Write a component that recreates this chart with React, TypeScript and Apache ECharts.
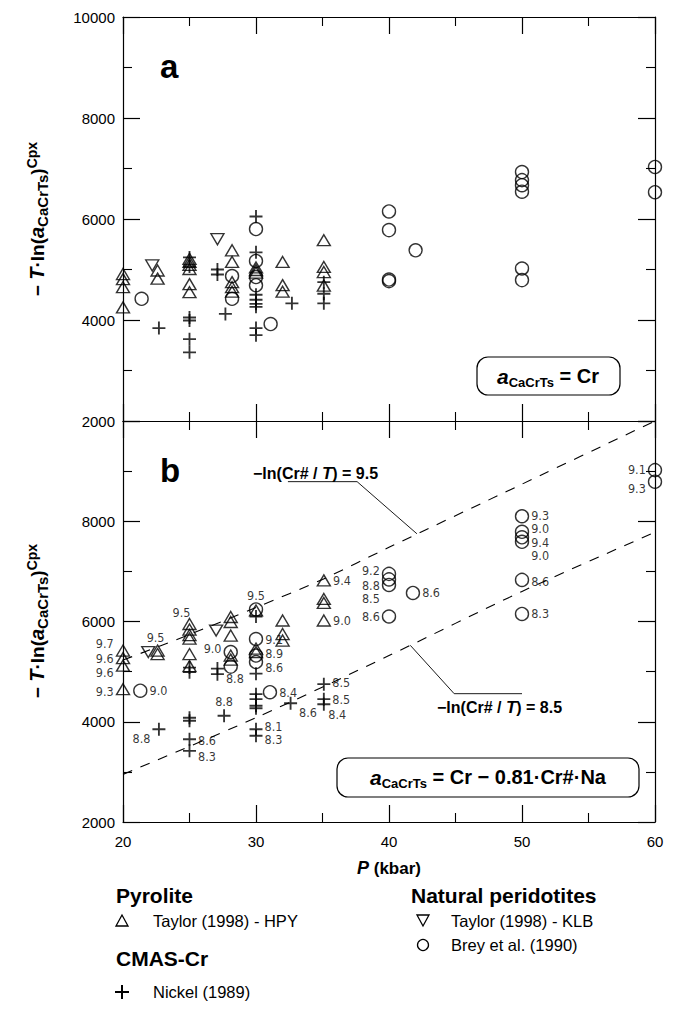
import React, { useEffect, useRef } from 'react';
import * as echarts from 'echarts';

// ---------- data ----------
const xTickLabels = [20, 30, 40, 50, 60];
const yTickLabels = [2000, 4000, 6000, 8000, 10000];

// Panel a : a_CaCrTs = Cr
const hpyA: number[][] = [
  [20, 4910], [20, 4810], [20, 4650], [20, 4250],
  [22.6, 4980], [22.6, 4820],
  [25, 5210], [25, 5150], [25, 5090], [25, 5010], [25, 4710], [25, 4550],
  [28.2, 5380], [28.2, 5150], [28.2, 4750], [28.2, 4650], [28.2, 4560],
  [30, 5040], [30, 4990], [30, 4940],
  [32, 5150], [32, 4690], [32, 4560],
  [35.1, 5580], [35.1, 5050], [35.1, 4950], [35.1, 4680],
];
const klbA: number[][] = [[22.2, 5080], [27.1, 5600]];
const breyA: number[][] = [
  [21.4, 4420],
  [28.2, 4870], [28.2, 4420],
  [30, 5800], [30, 5170], [30, 4850], [30, 4690],
  [31.1, 3920],
  [40, 6150], [40, 5780], [40, 4800], [40, 4770],
  [42, 5380],
  [50, 6930], [50, 6770], [50, 6670], [50, 6540], [50, 5020], [50, 4790],
  [60, 7030], [60, 6530],
];
const nickelA: number[][] = [
  [22.7, 3840],
  [25, 5240], [25, 5060], [25, 4050], [25, 3990], [25, 3620], [25, 3360],
  [27.1, 5000], [27.1, 4900],
  [27.7, 4120],
  [30, 6050], [30, 5340], [30, 4500], [30, 4400], [30, 4320], [30, 4260], [30, 3840], [30, 3700],
  [32.7, 4330],
  [35.1, 4750], [35.1, 4520], [35.1, 4330],
];

// Panel b : a_CaCrTs = Cr - 0.81 Cr# Na   ([P, value, -ln(Cr#/T) label])
const hpyB: [number, number, string][] = [
  [20, 5420, '9.7'], [20, 5270, '9.6'], [20, 5120, '9.6'], [20, 4650, '9.3'],
  [22.6, 5420, '9.5'], [22.6, 5350, ''],
  [25, 5950, '9.5'], [25, 5840, ''], [25, 5730, ''], [25, 5660, ''], [25, 5350, ''], [25, 5110, ''],
  [28.1, 6090, ''], [28.1, 5990, ''], [28.1, 5720, ''], [28.1, 5320, ''], [28.1, 5240, ''],
  [30, 6220, ''], [30, 5460, ''], [30, 5390, ''],
  [32, 6020, ''], [32, 5750, ''], [32, 5620, ''],
  [35.1, 6820, '9.4'], [35.1, 6450, ''], [35.1, 6370, ''], [35.1, 6020, '9.0'],
];
const klbB: [number, number, string][] = [[21.9, 5390, ''], [27.0, 5820, '']];
const breyB: [number, number, string][] = [
  [21.3, 4620, '9.0'],
  [28.1, 5390, '9.0'], [28.1, 5100, ''],
  [30, 6240, '9.5'], [30, 5650, '9.1'], [30, 5320, '8.9'], [30, 5190, '8.6'],
  [31.05, 4590, '8.4'],
  [40, 6950, '9.2'], [40, 6840, '8.8'], [40, 6730, '8.5'], [40, 6100, '8.6'],
  [41.8, 6570, '8.6'],
  [50, 8100, '9.3'], [50, 7790, '9.0'], [50, 7680, '9.4'], [50, 7590, '9.0'], [50, 6830, '8.6'], [50, 6150, '8.3'],
  [60, 9020, '9.1'], [60, 8790, '9.3'],
];
const nickelB: [number, number, string][] = [
  [22.7, 3850, '8.8'],
  [25, 5080, ''], [25, 4990, ''], [25, 4080, ''], [25, 4020, ''], [25, 3650, '8.6'], [25, 3420, '8.3'],
  [27.1, 5060, ''], [27.1, 4950, '8.8'],
  [27.6, 4120, '8.8'],
  [30, 6100, ''], [30, 4960, ''], [30, 4550, ''], [30, 4450, ''], [30, 4320, ''], [30, 4270, ''], [30, 3850, '8.1'], [30, 3720, '8.3'],
  [32.6, 4370, '8.6'],
  [35.1, 4750, '8.5'], [35.1, 4450, '8.5'], [35.1, 4350, '8.4'],
];

// label placement for the labelled points (in order of appearance)
const hpyBPlace: [string, number, number][] = [
  ['left', 0, -7], ['left', 0, 0], ['left', 0, 7], ['left', 0, 2],
  ['top', -2, 1], ['top', -8, 3], ['right', 0, 0], ['right', 0, 0],
];
const breyBPlace: [string, number, number][] = [
  ['right', 0, 0], ['left', 0, -4], ['top', 0, 1], ['right', 0, 0], ['right', 0, -2], ['right', 0, 5],
  ['right', 0, 0], ['left', 0, -3], ['left', 0, 6], ['left', 0, 14], ['left', 0, 0], ['right', 0, 0],
  ['right', 0, -1], ['right', 0, -3], ['right', 0, 5], ['right', 0, 14], ['right', 0, 2], ['right', 0, 0],
  ['left', 0, -1], ['left', 0, 7],
];
const nickelBPlace: [string, number, number][] = [
  ['left', 0, 9], ['right', 0, 1], ['right', 0, 6], ['right', 0, 4], ['top', 0, 0],
  ['right', 0, -3], ['right', 0, 4], ['right', 0, 9], ['right', 0, -2], ['right', 0, 0], ['right', -4, 10],
];

// dashed iso-lines of -ln(Cr#/T) in panel b
const curve95: number[][] = [[20, 5230], [25, 5740], [30, 6280], [35, 6840], [40, 7480], [50, 8740], [60, 10000]];
const curve85: number[][] = [[20, 2950], [30, 4080], [40, 5320], [50, 6600], [60, 7780]];
const leader95: number[][] = [[32.4, 8790], [37.6, 8790], [42.1, 7750]];
const leader85: number[][] = [[41.6, 5525], [44.9, 4560], [50.0, 4560]];

// ---------- styling ----------
const FONT = "'Liberation Sans', Arial, sans-serif";
const NARROW = "'Liberation Sans Narrow', 'DejaVu Sans Condensed', 'Liberation Sans', sans-serif";
const BLACK = '#000';
const PLUS = 'path://M6,0H8V6H14V8H8V14H6V8H0V6H6Z';

const GRID_A = { left: 123, top: 17, width: 532, height: 404 };
const GRID_B = { left: 123, top: 421, width: 532, height: 401 };

function xAxis(gridIndex: number, position: string, showLabel: boolean) {
  return {
    type: 'value', gridIndex, position, min: 20, max: 60, interval: 10,
    axisLine: { show: true, onZero: false, lineStyle: { color: BLACK, width: 1.2 } },
    axisTick: { show: true, inside: true, length: 17, lineStyle: { color: BLACK, width: 1.2 } },
    minorTick: { show: true, splitNumber: 2, length: 9, lineStyle: { color: BLACK, width: 1.1 } },
    splitLine: { show: false },
    minorSplitLine: { show: false },
    axisLabel: {
      show: showLabel, margin: 12, fontSize: 15, color: BLACK, fontFamily: FONT,
      formatter: (v: number) => (xTickLabels.includes(v) ? String(v) : ''),
    },
  };
}

function yAxis(gridIndex: number, position: string, showLabel: boolean, hideTop: boolean) {
  return {
    type: 'value', gridIndex, position, min: 2000, max: 10000, interval: 2000,
    axisLine: { show: true, onZero: false, lineStyle: { color: BLACK, width: 1.2 } },
    axisTick: { show: true, inside: true, length: 17, lineStyle: { color: BLACK, width: 1.2 } },
    minorTick: { show: true, splitNumber: 2, length: 9, lineStyle: { color: BLACK, width: 1.1 } },
    splitLine: { show: false },
    minorSplitLine: { show: false },
    axisLabel: {
      show: showLabel, margin: 8, fontSize: 15, color: BLACK, fontFamily: FONT,
      formatter: (v: number) => (hideTop && v === 10000 ? '' : yTickLabels.includes(v) ? String(v) : ''),
    },
  };
}

const hollow = { color: 'rgba(0,0,0,0)', borderColor: BLACK, borderWidth: 1.4 };

function scatter(data: any[], xi: number, symbol: string, size: any, rotate = 0, filled = false) {
  return {
    type: 'scatter', xAxisIndex: xi, yAxisIndex: xi, symbol, symbolSize: size, symbolRotate: rotate,
    clip: false, silent: true, z: 5,
    itemStyle: filled ? { color: BLACK, borderWidth: 0 } : hollow,
    label: { show: false },
    data,
  };
}

function labelled(points: [number, number, string][], place: [string, number, number][]) {
  let k = 0;
  return points.map(([p, v, t]) => {
    if (!t) return { value: [p, v] };
    const [pos, dx, dy] = place[k++] || ['right', 0, 0];
    return {
      value: [p, v],
      label: {
        show: true, formatter: t, position: pos, distance: 2, offset: [dx, dy],
        fontSize: 12.5, lineHeight: 12, color: BLACK, fontFamily: NARROW,
      },
    };
  });
}

function line(data: number[][], dashed: boolean) {
  return {
    type: 'line', xAxisIndex: 2, yAxisIndex: 2, data, symbol: 'none', silent: true, z: 2,
    smooth: dashed ? 0.3 : false, clip: false,
    lineStyle: dashed ? { color: BLACK, width: 1.1, type: [10, 9] } : { color: BLACK, width: 0.9 },
  };
}

const richAct = (big: number, sub: number) => ({
  n: { fontSize: big, fontWeight: 'bold', fontFamily: FONT, color: BLACK, lineHeight: big + 6 },
  i: { fontSize: big + 1, fontWeight: 'bold', fontStyle: 'italic', fontFamily: FONT, color: BLACK, lineHeight: big + 6 },
  s: { fontSize: sub, fontWeight: 'bold', fontFamily: FONT, color: BLACK, lineHeight: sub + 1, verticalAlign: 'bottom' },
  p: { fontSize: sub - 1, fontWeight: 'bold', fontFamily: FONT, color: BLACK, lineHeight: sub, verticalAlign: 'top' },
});

function txt(x: number, y: number, text: string, size: number, bold: boolean, align = 'left') {
  return {
    type: 'text', x, y, z: 10,
    style: {
      text, fontSize: size, fontWeight: bold ? 'bold' : 'normal', fontFamily: FONT, fill: BLACK,
      align, textAlign: align, verticalAlign: 'middle', textVerticalAlign: 'middle',
    },
  };
}

function richText(x: number, y: number, text: string, rich: any, align = 'center', rotation = 0) {
  return {
    type: 'text', x, y, rotation, z: 10,
    style: { text, rich, align, textAlign: align, verticalAlign: 'middle', textVerticalAlign: 'middle', fill: BLACK },
  };
}

const yName = '{n|− }{i|T}{n|·ln(}{i|a}{s|CaCrTs}{n|)}{p|Cpx}';

const graphics: any[] = [
  txt(160, 66, 'a', 33, true),
  txt(160, 470, 'b', 33, true),
  richText(37, 219, yName, richAct(19, 15), 'center', Math.PI / 2),
  richText(37, 621, yName, richAct(19, 15), 'center', Math.PI / 2),
  { type: 'rect', z: 8, shape: { x: 477, y: 357, width: 143, height: 38, r: 11 }, style: { fill: '#fff', stroke: BLACK, lineWidth: 1.2 } },
  richText(548, 376, '{i|a}{s|CaCrTs}{n| = Cr}', richAct(20, 13)),
  { type: 'rect', z: 8, shape: { x: 337, y: 758, width: 302, height: 39, r: 11 }, style: { fill: '#fff', stroke: BLACK, lineWidth: 1.2 } },
  richText(488, 777, '{i|a}{s|CaCrTs}{n| = Cr − 0.81·Cr#·Na}', richAct(20, 13)),
  richText(253, 473, '{n|−ln(Cr# / }{i|T}{n|) = 9.5}', richAct(16, 11), 'left'),
  richText(437, 707, '{n|−ln(Cr# / }{i|T}{n|) = 8.5}', richAct(16, 11), 'left'),
  richText(389, 868, '{i|P}{n| (kbar)}', richAct(17, 12)),
  // legend
  txt(116, 895, 'Pyrolite', 21, true),
  { type: 'polygon', z: 10, shape: { points: [[122, 915], [116, 926], [128, 926]] }, style: { fill: 'none', stroke: BLACK, lineWidth: 1.3 } },
  txt(153, 921, 'Taylor (1998) - HPY', 16.5, false),
  txt(116, 958, 'CMAS-Cr', 21, true),
  { type: 'rect', z: 10, shape: { x: 115, y: 991, width: 14, height: 2 }, style: { fill: BLACK } },
  { type: 'rect', z: 10, shape: { x: 121, y: 985, width: 2, height: 14 }, style: { fill: BLACK } },
  txt(153, 992, 'Nickel (1989)', 16.5, false),
  txt(411, 895, 'Natural peridotites', 21, true),
  { type: 'polygon', z: 10, shape: { points: [[423, 926], [417, 915], [429, 915]] }, style: { fill: 'none', stroke: BLACK, lineWidth: 1.3 } },
  txt(451, 921, 'Taylor (1998) - KLB', 16.5, false),
  { type: 'circle', z: 10, shape: { cx: 423, cy: 945, r: 5.5 }, style: { fill: 'none', stroke: BLACK, lineWidth: 1.3 } },
  txt(451, 945, 'Brey et al. (1990)', 16.5, false),
];

const option: any = {
  animation: false,
  backgroundColor: '#fff',
  grid: [GRID_A, GRID_B],
  xAxis: [xAxis(0, 'bottom', false), xAxis(0, 'top', false), xAxis(1, 'bottom', true), xAxis(1, 'top', false)],
  yAxis: [yAxis(0, 'left', true, false), yAxis(0, 'right', false, false), yAxis(1, 'left', true, true), yAxis(1, 'right', false, false)],
  series: [
    line(curve95, true),
    line(curve85, true),
    line(leader95, false),
    line(leader85, false),
    scatter(hpyA, 0, 'triangle', [13, 11]),
    scatter(klbA, 0, 'triangle', [13, 11], 180),
    scatter(breyA, 0, 'circle', 13),
    scatter(nickelA, 0, PLUS, 13, 0, true),
    scatter(labelled(hpyB, hpyBPlace), 2, 'triangle', [13, 11]),
    scatter(labelled(klbB, []), 2, 'triangle', [13, 11], 180),
    scatter(labelled(breyB, breyBPlace), 2, 'circle', 13),
    scatter(labelled(nickelB, nickelBPlace), 2, PLUS, 13, 0, true),
  ],
  graphic: graphics,
};

export default function App() {
  const ref = useRef<HTMLDivElement>(null);
  useEffect(() => {
    document.body.style.margin = '0';
    const chart = echarts.init(ref.current!, undefined, { renderer: 'svg' });
    chart.setOption(option);
    return () => chart.dispose();
  }, []);
  return <div ref={ref} style={{ width: 675, height: 1027 }} />;
}
